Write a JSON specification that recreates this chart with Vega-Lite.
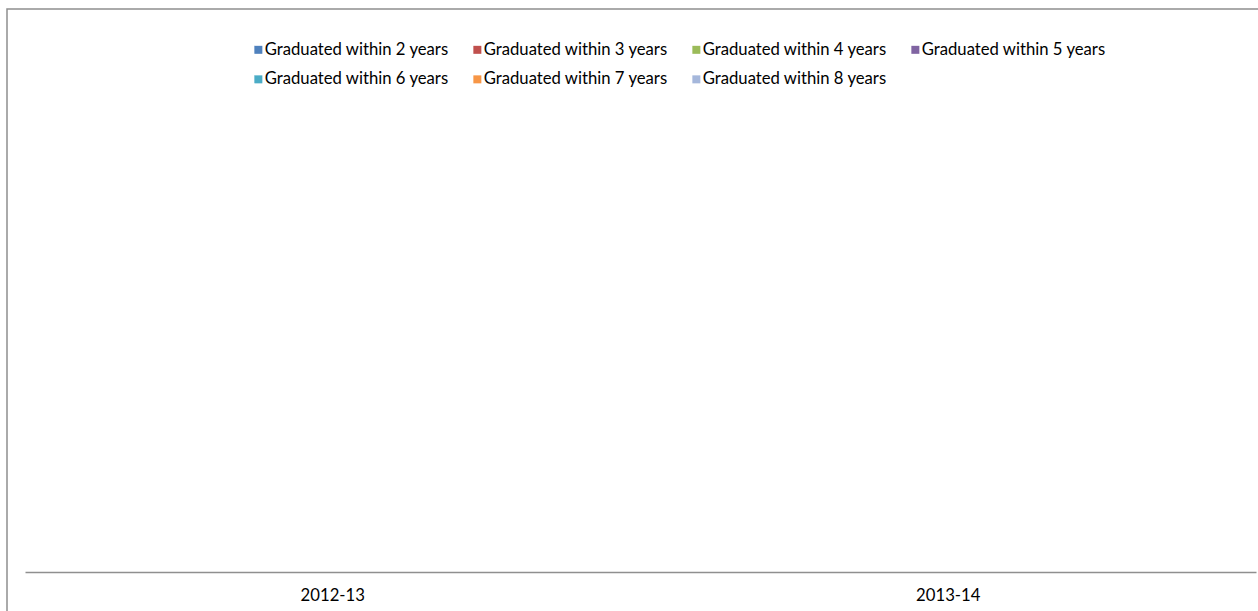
{
  "$schema": "https://vega.github.io/schema/vega-lite/v6.json",
  "autosize": "none",
  "padding": {"left": 7, "top": 9, "right": 0, "bottom": 0},
  "width": 1252,
  "height": 603,
  "background": "white",
  "config": {
    "view": {"stroke": "#8f8f8f", "strokeWidth": 1.5},
    "font": "Lato"
  },
  "data": {
    "values": [
      {"year": "2012-13", "series": "Graduated within 2 years", "value": null},
      {"year": "2012-13", "series": "Graduated within 3 years", "value": null},
      {"year": "2012-13", "series": "Graduated within 4 years", "value": null},
      {"year": "2012-13", "series": "Graduated within 5 years", "value": null},
      {"year": "2012-13", "series": "Graduated within 6 years", "value": null},
      {"year": "2012-13", "series": "Graduated within 7 years", "value": null},
      {"year": "2012-13", "series": "Graduated within 8 years", "value": null},
      {"year": "2013-14", "series": "Graduated within 2 years", "value": null},
      {"year": "2013-14", "series": "Graduated within 3 years", "value": null},
      {"year": "2013-14", "series": "Graduated within 4 years", "value": null},
      {"year": "2013-14", "series": "Graduated within 5 years", "value": null},
      {"year": "2013-14", "series": "Graduated within 6 years", "value": null},
      {"year": "2013-14", "series": "Graduated within 7 years", "value": null},
      {"year": "2013-14", "series": "Graduated within 8 years", "value": null}
    ]
  },
  "mark": {"type": "bar"},
  "encoding": {
    "x": {
      "field": "year",
      "type": "nominal",
      "scale": {"domain": ["2012-13", "2013-14"], "range": [18, 1249], "paddingInner": 0, "paddingOuter": 0},
      "axis": {
        "title": null,
        "orient": "bottom",
        "offset": -40,
        "labelAngle": 0,
        "ticks": false,
        "domainColor": "#8f8f8f",
        "domainWidth": 1.5,
        "labelFont": "Lato",
        "labelFontSize": 16.7,
        "labelColor": "#000000",
        "labelPadding": 15
      }
    },
    "xOffset": {"field": "series", "type": "nominal"},
    "y": {
      "field": "value",
      "type": "quantitative",
      "scale": {"domain": [0, 1]},
      "axis": null
    },
    "color": {
      "field": "series",
      "type": "nominal",
      "scale": {
        "domain": ["Graduated within 2 years", "Graduated within 3 years", "Graduated within 4 years", "Graduated within 5 years", "Graduated within 6 years", "Graduated within 7 years", "Graduated within 8 years"],
        "range": ["#4F81BD", "#C0504D", "#9BBB59", "#8064A2", "#4BACC6", "#F79646", "#A5B7DB"]
      },
      "legend": {
        "title": null,
        "orient": "none",
        "legendX": 243,
        "legendY": 32,
        "direction": "horizontal",
        "columns": 4,
        "symbolType": "square",
        "symbolSize": 64,
        "symbolStrokeWidth": 0,
        "labelFont": "Lato",
        "labelFontSize": 16.7,
        "labelColor": "#000000",
        "labelOffset": -2,
        "columnPadding": 20,
        "rowPadding": 12,
        "labelLimit": 400
      }
    }
  }
}
